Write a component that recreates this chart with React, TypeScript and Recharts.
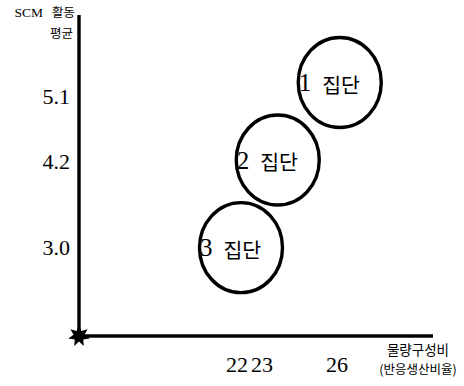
import React from 'react';
import {
  ScatterChart,
  Scatter,
  XAxis,
  YAxis,
  ReferenceDot,
} from 'recharts';

// Cluster groups: name, share of volume (x) and mean SCM activity (y)
const groupNames = ['1', '2', '3'];
const groupShare = [26.11, 23.63, 22.16];
const groupActivity = [5.3, 4.22, 3.0];

// Tick values shown on the axes
const xTicks = [22, 23, 26];
const yTicks = [3.0, 4.2, 5.1];

const xDomain: [number, number] = [15.68, 29.84];
const yDomain: [number, number] = [1.77, 6.24];

const groups = groupNames.map((name, i) => ({
  name,
  x: groupShare[i],
  y: groupActivity[i],
}));

const SERIF = "'Liberation Serif', 'DejaVu Serif', serif";
const KR = "'Noto Sans CJK KR', 'Noto Sans', sans-serif";

const GroupShape = (props: any) => {
  const { cx, cy, payload } = props;
  return (
    <g>
      <ellipse cx={cx} cy={cy} rx={41.5} ry={45} fill="none" stroke="#000" strokeWidth={3.4} />
      <text x={cx - 41} y={cy} dominantBaseline="central" fontFamily={SERIF} fontSize={25} fill="#000">
        {payload.name}
      </text>
      <text x={cx - 17.5} y={cy + 1} dominantBaseline="central" fontFamily={KR} fontSize={20.5} fill="#000">
        집단
      </text>
    </g>
  );
};

const Star = (props: any) => {
  const { cx, cy } = props;
  const pts: string[] = [];
  const n = 7;
  for (let i = 0; i < n * 2; i++) {
    const r = i % 2 === 0 ? 11 : 5.5;
    const a = (Math.PI * i) / n - Math.PI / 2;
    pts.push(`${cx + r * Math.cos(a)},${cy + r * Math.sin(a)}`);
  }
  return <polygon points={pts.join(' ')} fill="#000" />;
};

const YTick = (props: any) => {
  const { x, y, payload } = props;
  return (
    <text x={x} y={y} textAnchor="end" dominantBaseline="central" fontFamily={SERIF} fontSize={22} fill="#000">
      {Number(payload.value).toFixed(1)}
    </text>
  );
};

const XTick = (props: any) => {
  const { x, y, payload } = props;
  return (
    <text x={x} y={y + 28} textAnchor="middle" dominantBaseline="central" fontFamily={SERIF} fontSize={22} fill="#000">
      {payload.value}
    </text>
  );
};

const YTitle = (props: any) => {
  const { viewBox } = props;
  const right = viewBox.x + viewBox.width - 4;
  const top = viewBox.y;
  return (
    <g fill="#000">
      <text x={right} y={top + 2} textAnchor="end">
        <tspan fontFamily={SERIF} fontSize={13.5}>SCM</tspan>
        <tspan dx={9} fontFamily={KR} fontSize={12.5}>활동</tspan>
      </text>
      <text x={right - 2} y={top + 23} textAnchor="end" fontFamily={KR} fontSize={12.5}>
        평균
      </text>
    </g>
  );
};

const XTitle = (props: any) => {
  const { viewBox } = props;
  const cx = viewBox.x + viewBox.width - 15;
  const top = viewBox.y;
  return (
    <g fill="#000" fontFamily={KR}>
      <text x={cx} y={top + 13} textAnchor="middle" dominantBaseline="central" fontSize={13.5}>
        물량구성비
      </text>
      <text x={cx} y={top + 32} textAnchor="middle" dominantBaseline="central" fontSize={12.5}>
        (반응생산비율)
      </text>
    </g>
  );
};

export default function App() {
  return (
    <div style={{ position: 'absolute', left: 0, top: 0, background: '#fff' }}>
      <ScatterChart width={464} height={386} margin={{ top: 15, right: 31, bottom: 0, left: 0 }}>
        <XAxis
          type="number"
          dataKey="x"
          domain={xDomain}
          ticks={xTicks}
          allowDataOverflow
          height={50}
          tickLine={false}
          tickSize={0}
          tickMargin={0}
          axisLine={{ stroke: '#000', strokeWidth: 3.4 }}
          tick={<XTick />}
          label={<XTitle />}
        />
        <YAxis
          type="number"
          dataKey="y"
          domain={yDomain}
          ticks={yTicks}
          allowDataOverflow
          width={79}
          tickLine={false}
          tickSize={0}
          tickMargin={9}
          axisLine={{ stroke: '#000', strokeWidth: 3.4 }}
          tick={<YTick />}
          label={<YTitle />}
        />
        <Scatter data={groups} shape={<GroupShape />} isAnimationActive={false} />
        <ReferenceDot x={xDomain[0]} y={yDomain[0]} ifOverflow="visible" shape={<Star />} />
      </ScatterChart>
    </div>
  );
}
